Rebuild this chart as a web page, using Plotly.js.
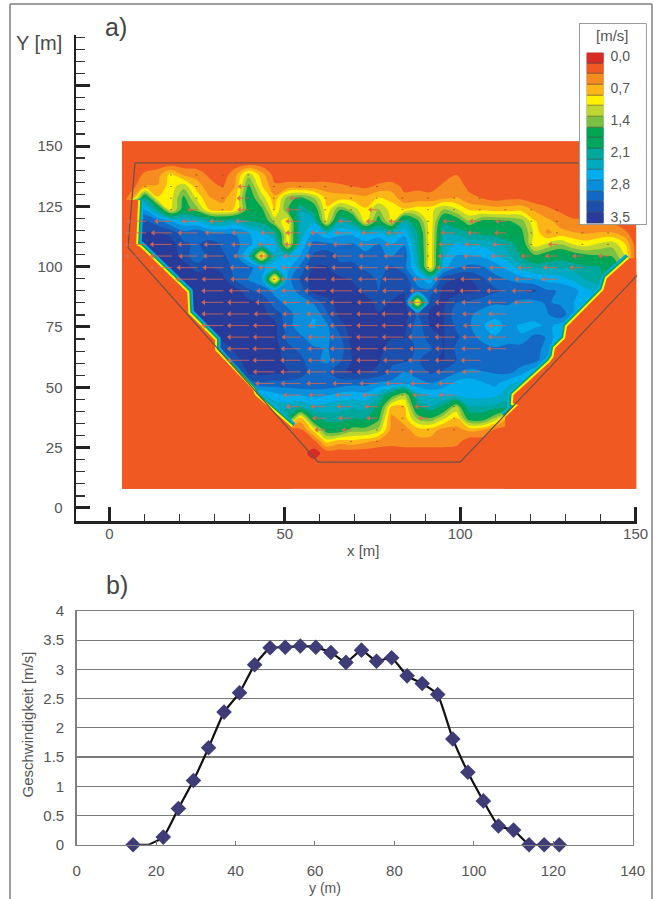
<!DOCTYPE html>
<html>
<head>
<meta charset="utf-8">
<script src="https://cdn.plot.ly/plotly-3.0.1.min.js"></script>
<style>html,body{margin:0;padding:0;background:#fff}</style>
</head>
<body>
<div id="chart" style="width:654px;height:899px"></div>
<script>
// ---------- panel a) velocity field: values ----------
const gridX = [6.4,10.1,13.8,17.5,21.2,24.9,28.6,32.3,36,39.7,43.4,47.1,50.8,54.5,58.2,61.9,65.6,69.3,73,76.7,80.4,84.1,87.8,91.5,95.2,98.9,102.6,106.3,110,113.7,117.4,121.1,124.8,128.5,132.2,135.9,139.6,143.3,147];
const gridY = [142.8,138,133.2,128.4,123.6,118.8,114,109.2,104.4,99.6,94.8,90,85.2,80.4,75.6,70.8,66,61.2,56.4,51.6,46.8,42,37.2,32.4,27.6,22.8,18];
const speedRows = [
[.2,.2,.2,.2,.2,.2,.2,.2,.2,.2, .2,.2,.2,.2,.2,.2,.2,.2,.2,.2, .2,.2,.2,.2,.2,.2,.2,.2,.2,.2, .2,.2,.2,.2,.2,.2,.2,.2,.2],
[.2,.4,.5,.9,.55,.5,.3,.2,.55,1.2, .7,.25,.2,.2,.2,.2,.2,.2,.2,.2, .2,.2,.2,.2,.25,.35,.25,.2,.2,.2, .2,.2,.2,.2,.2,.2,.2,.2,.2],
[.25,.6,.6,.95,1.2,.7,.45,.35,.6,1.6, .85,.4,.45,.45,.45,.45,.4,.35,.3,.4, .45,.3,.3,.25,.4,.45,.3,.2,.2,.2, .2,.2,.2,.2,.2,.2,.2,.2,.2],
[.5,2.0,.85,.95,1.6,1.0,.6,.5,.8,1.8, 1.2,.65,1.4,1.6,1.3,.75,.7,.7,.65,.85, .75,.4,.45,.45,.55,.6,.4,.35,.25,.3, .3,.2,.2,.2,.2,.2,.2,.2,.2],
[2.6,2.7,2.0,.95,1.7,1.4,.8,.7,.85,1.7, 1.6,.8,1.5,2.2,1.8,.85,1.5,1.2,.85,1.3, .95,.85,.95,.95,1.3,1.1,.8,.75,.7,.7, .75,.55,.4,.3,.2,.2,.2,.2,.2],
[3.1,3.2,3.0,2.7,2.5,2.45,2.2,2.1,2.3,2.0, 1.9,1.2,.9,2.3,2.4,.9,2.2,2.0,.9,1.7, 1.0,2.2,1.6,.85,1.9,1.75,1.3,1.6,1.6,1.55, 1.4,.85,.65,.5,.4,.4,.35,.3,.2],
[3.3,3.4,3.4,3.3,3.0,3.1,2.9,2.9,2.9,2.7, 2.45,2.1,.9,2.3,2.7,2.4,2.6,2.6,2.4,2.5, 2.3,2.6,2.0,.85,2.2,2.15,2.0,1.9,1.85,1.7, 1.6,1.0,.55,.65,.6,.55,.6,.6,.4],
[3.4,3.5,3.5,3.5,3.2,3.1,3.3,3.1,3.0,2.75, 2.5,2.6,.9,2.5,3.0,3.0,2.9,2.95,2.8,2.95, 2.7,2.9,2.1,.85,2.3,2.5,2.4,2.4,2.3,2.1, 1.85,.9,1.1,1.3,1.05,.95,1.1,1.2,.85],
[3.4,3.4,3.5,3.5,3.3,2.95,3.25,3.2,3.0,2.4, .6,2.4,2.5,2.7,3.2,3.3,3.1,3.1,3.0,2.95, 2.9,3.1,2.2,.85,2.4,2.7,2.7,2.65,2.5,2.3, 1.95,1.6,1.75,1.85,1.75,1.6,1.55,1.5,1.05],
[3.4,3.4,3.5,3.5,3.5,3.3,3.4,3.3,3.05,3.0, 2.75,2.5,2.6,3.0,3.4,3.4,3.2,3.2,3.1,3.0, 3.2,3.0,2.4,.85,2.6,2.9,3.0,2.95,2.8,2.6, 2.35,2.2,2.2,2.2,2.15,2.05,2.0,1.9,1.2],
[3.3,3.3,3.3,3.3,3.5,3.5,3.5,3.45,3.1,2.9, 2.75,.6,2.8,3.2,3.5,3.5,3.45,3.35,3.3,3.1, 3.3,3.3,2.8,2.5,3.3,3.4,3.4,3.2,3.0,2.9, 2.8,2.7,2.6,2.55,2.4,2.2,2.0,1.9,1.2],
[3.3,3.3,3.3,3.3,3.5,3.5,3.5,3.5,3.5,3.2, 3.05,2.85,2.8,3.0,3.5,3.5,3.5,3.5,3.3,3.15, 3.3,3.35,3.0,3.0,3.45,3.5,3.45,3.35,3.2,3.1, 3.15,3.2,2.95,2.9,2.8,2.5,2.4,2.0,2.0],
[3.3,3.3,3.3,3.3,3.4,3.45,3.5,3.5,3.45,3.45, 3.4,3.0,2.85,2.8,2.95,3.3,3.5,3.5,3.5,3.3, 3.4,3.5,.6,3.3,3.45,3.15,3.1,3.0,2.95,2.95, 2.85,2.85,2.95,2.85,2.7,2.45,2.0,2.0,2.0],
[3.3,3.3,3.3,3.3,3.3,3.5,3.5,3.5,3.5,3.5, 3.45,3.3,3.0,2.8,2.7,3.1,3.45,3.5,3.5,3.4, 3.5,3.5,3.1,3.45,3.4,3.0,2.95,2.85,2.75,2.8, 2.9,2.85,2.9,3.1,2.7,2.4,2.0,2.0,2.0],
[3.3,3.3,3.3,3.3,3.3,3.3,3.5,3.5,3.5,3.5, 3.5,3.45,3.0,2.8,2.65,2.85,3.3,3.5,3.5,3.4, 3.4,3.45,3.0,3.4,3.4,3.1,2.95,2.7,2.6,2.75, 2.65,2.6,2.75,2.6,2.3,2.3,2.0,2.0,2.0],
[3.3,3.3,3.3,3.3,3.3,3.3,3.3,3.5,3.5,3.5, 3.5,3.45,3.1,2.95,2.8,2.85,3.1,3.5,3.5,3.45, 3.4,3.4,2.95,3.3,3.4,3.2,3.0,2.85,2.7,2.8, 2.7,3.0,2.9,2.4,2.3,2.3,2.0,2.0,2.0],
[3.3,3.3,3.3,3.3,3.3,3.3,3.3,3.2,3.45,3.5, 3.5,3.5,3.2,3.1,2.95,2.9,3.0,3.45,3.5,3.45, 3.3,3.3,3.1,3.1,3.4,3.1,3.0,3.0,2.95,3.0, 3.05,3.05,2.8,2.4,2.3,2.3,2.0,2.0,2.0],
[3.3,3.3,3.3,3.3,3.3,3.3,3.3,3.3,3.3,3.5, 3.5,3.5,3.3,3.2,3.0,2.85,3.1,3.4,3.5,3.4, 3.2,3.2,3.1,3.35,3.4,3.15,3.1,3.1,3.05,3.05, 3.05,3.0,2.75,2.3,2.3,2.3,2.0,2.0,2.0],
[3.3,3.3,3.3,3.3,3.3,3.3,3.3,3.3,2.9,3.45, 3.5,3.45,3.4,3.2,3.1,3.1,3.3,3.45,3.4,3.35, 3.1,2.9,3.0,3.2,3.1,2.95,2.85,2.9,2.95,3.0, 2.8,2.5,2.2,2.2,2.0,2.0,2.0,2.0,2.0],
[3.0,3.0,3.0,3.0,3.0,3.0,3.0,3.0,3.0,3.0, 3.1,3.05,3.05,3.1,3.1,3.1,3.05,3.0,3.0,2.85, 2.85,2.75,2.85,2.9,2.8,2.6,2.55,2.65,2.75,2.5, 2.35,2.2,2.0,2.0,2.0,2.0,2.0,2.0,2.0],
[2.5,2.5,2.5,2.5,2.5,2.5,2.5,2.5,2.5,2.5, 2.4,2.6,2.7,2.7,2.75,2.7,2.6,2.55,2.6,2.3, 1.7,1.2,2.3,2.5,2.5,2.5,2.55,2.55,2.5,2.3, 2.1,2.0,2.0,2.0,2.0,2.0,2.0,2.0,2.0],
[2.2,2.2,2.2,2.2,2.2,2.2,2.2,2.2,2.2,2.2, 2.2,2.3,2.3,2.2,2.4,2.35,2.3,2.25,2.3,1.9, .8,.8,1.9,2.2,1.9,1.25,2.2,2.2,2.15,2.0, 1.5,1.5,1.5,1.5,1.5,1.5,1.5,1.5,1.5],
[1.9,1.9,1.9,1.9,1.9,1.9,1.9,1.9,1.9,1.9, 1.9,1.9,1.9,.75,1.9,2.1,2.1,2.0,2.0,1.6, .5,.7,1.35,1.5,1.1,.8,1.7,1.75,1.25,.6, .3,.3,.3,.3,.3,.3,.3,.3,.3],
[.2,.2,.2,.2,.2,.2,.2,.2,.2,.2, .2,.2,.2,.3,.9,1.7,1.75,1.4,1.4,1.2, .5,.5,.7,.7,.5,.5,.65,.6,.3,.2, .2,.2,.2,.2,.2,.2,.2,.2,.2],
[.2,.2,.2,.2,.2,.2,.2,.2,.2,.2, .2,.2,.2,.2,.25,.9,.7,.75,.65,.5, .45,.5,.5,.5,.5,.45,.2,.2,.2,.2, .2,.2,.2,.2,.2,.2,.2,.2,.2],
[.2,.2,.2,.2,.2,.2,.2,.2,.2,.2, .2,.2,.2,.2,.03,.2,.2,.2,.2,.2, .2,.2,.2,.2,.2,.2,.2,.2,.2,.2, .2,.2,.2,.2,.2,.2,.2,.2,.2],
[.2,.2,.2,.2,.2,.2,.2,.2,.2,.2, .2,.2,.2,.2,.2,.2,.2,.2,.2,.2, .2,.2,.2,.2,.2,.2,.2,.2,.2,.2, .2,.2,.2,.2,.2,.2,.2,.2,.2]
];
const backgroundSpeed = 0.2;
const fieldLeft = 3.6, fieldRight = 150.2, fieldTop = 152, fieldBottom = 8;

// band colours of the legend, top to bottom
const legendLevels = [0,0.2333,0.4667,0.7,0.9333,1.1667,1.4,1.6333,1.8667,2.1,2.3333,2.5667,2.8,3.0333,3.2667,3.5];
const bandColors = ['#d92b26','#f05a22','#f68b1f','#fbb517','#fff200','#bed630','#7ac143','#00a651','#00a65d','#00a79d','#00aac0','#00aeef','#0a8fdc','#1268c4','#1b4fab','#273b9b'];
const legendTickVals = [0,0.7,1.4,2.1,2.8,3.5];
const legendTickText = ['0,0','0,7','1,4','2,1','2,8','3,5'];

// sharp banks of the flow field
const leftBankX = [8.2,7.6,8.7,22.2,22.5,30.1,30.1,41,41.5,52];
const leftBankY = [127.6,109,108.3,89.4,80.7,69.6,65.5,48.9,46.8,33.4];
const rightBankX = [148.2,141.8,140.8,130.4,129.9,127,126.6,125.6,115.2,115,116.5,112.8];
const rightBankY = [103.5,95.2,90.3,75.1,70.3,66.2,62.7,60.6,46.8,43.4,42.7,37.6];

// grey outline of the measuring area
const outlineX = [7.3,5.3,59.5,100,150.5,153,7.3];
const outlineY = [143,108,19,19,96.5,143,143];

// flow arrows
const arrowColumns = [10.5,17.8,25.1,32.5,39.8,47.1,54.5,61.8,69.1,76.5,83.8,91.1,98.5,105.8,113.1,120.5,127.8,135.1,142.4];
const arrowRows = [138,133.2,128.4,123.6,118.8,114,109.2,104.4,99.6,94.8,90,85.2,80.4,75.6,70.8,66,61.2,56.4,51.6,46.8,42,37.2,32.4,27.6];
const arrowFrom = [1,0,1,1,0,0,0,0,1,2,3,3,3,3,4,4,4,5,5,6,6,7,7,8];
const arrowTo   = [4,9,13,17,18,18,18,18,17,16,15,15,14,14,14,14,13,13,12,12,12,12,12,9];
const arrowScale = 1.6;

// ---------- panel b) speed profile ----------
const profileY = [14.2,18,21.8,25.6,29.4,33.2,37.1,41,44.8,48.7,52.5,56.3,60.2,64,67.8,71.7,75.5,79.3,83.2,87,90.9,94.7,98.5,102.4,106.2,110,113.9,117.7,121.5];
const profileV = [0,0,0.13,0.62,1.1,1.66,2.27,2.6,3.08,3.37,3.38,3.4,3.38,3.29,3.12,3.33,3.14,3.2,2.89,2.76,2.57,1.81,1.24,0.75,0.32,0.25,0,0,0];
const profileMarkerSize = [12,0,12,12,12,12,12,12,12,12,12,12,12,12,12,12,12,12,12,12,12,12,12,12,12,12,12,12,12];

// ---------- construction ----------
const W = 654, H = 899;
const px = v => v / W, py = v => 1 - v / H;
const FONT = '"Liberation Sans", Arial, sans-serif';
const INK = '#555555';

const gridXFull = [fieldLeft].concat(gridX, [fieldRight]);
const pad = r => [backgroundSpeed].concat(r, [backgroundSpeed]);
const yAsc = [fieldBottom].concat(gridY.slice().reverse(), [147.6, fieldTop]);
const zAsc = [];
zAsc.push(pad(speedRows[speedRows.length-1]));
speedRows.slice().reverse().forEach(r => zAsc.push(pad(r)));
zAsc.push(pad(speedRows[0])); zAsc.push(pad(speedRows[0]));

const scale = legendLevels.map((v,i) => [v/3.5, bandColors[i]]);

const traces = [];
traces.push({type:'contour', x:gridXFull, y:yAsc, z:zAsc, zmin:0, zmax:3.5, colorscale:scale, showscale:false,
  autocontour:false, contours:{start:0.11667,end:3.3834,size:0.23333,coloring:'fill',showlines:false}, line:{width:0}, hoverinfo:'skip'});

// bank rims, wide to narrow, then the bank fill on top
[[leftBankX,leftBankY],[rightBankX,rightBankY]].forEach(b => {
  [[11,'#00aeef'],[8,'#00a79d'],[6,'#00a651'],[4,'#fff200']].forEach(s => {
    traces.push({type:'scatter',mode:'lines',x:b[0],y:b[1],line:{color:s[1],width:s[0]},hoverinfo:'skip'});
  });
});
traces.push({type:'scatter',mode:'lines',fill:'toself',fillcolor:bandColors[1],line:{width:0},hoverinfo:'skip',
  x:leftBankX.concat([52,fieldLeft,fieldLeft]), y:leftBankY.concat([fieldBottom,fieldBottom,127.6])});
traces.push({type:'scatter',mode:'lines',fill:'toself',fillcolor:bandColors[1],line:{width:0},hoverinfo:'skip',
  x:rightBankX.concat([112.8,fieldRight,fieldRight]), y:rightBankY.concat([fieldBottom,fieldBottom,103.5])});

traces.push({type:'scatter',mode:'lines',x:outlineX,y:outlineY,line:{color:'#6b5148',width:1.2},cliponaxis:false,hoverinfo:'skip'});

// arrows: tail on a measuring point, head to the left, length by speed
const nearest = (arr,v) => { let b=0; arr.forEach((a,i)=>{ if(Math.abs(a-v)<Math.abs(arr[b]-v)) b=i; }); return b; };
const segX=[],segY=[],headX=[],headY=[],dotX=[],dotY=[];
arrowRows.forEach((y,ri) => {
  const row = speedRows[nearest(gridY,y)];
  for(let c=arrowFrom[ri]; c<=arrowTo[ri]; c++){
    const x = arrowColumns[c], v = row[nearest(gridX,x)];
    if(v < 1.3){ dotX.push(x-0.5,x,null); dotY.push(y,y,null); }
    else { const h = x - v*arrowScale; segX.push(x,h,null); segY.push(y,y,null); headX.push(h); headY.push(y); }
  }
});
traces.push({type:'scatter',mode:'lines',x:dotX,y:dotY,line:{color:'#7a4020',width:1},opacity:0.7,hoverinfo:'skip'});
traces.push({type:'scatter',mode:'lines',x:segX,y:segY,line:{color:'#d9674f',width:1.1},opacity:0.75,hoverinfo:'skip'});
traces.push({type:'scatter',mode:'markers',x:headX,y:headY,marker:{symbol:'triangle-left',size:5,color:'#df6a50'},opacity:0.85,hoverinfo:'skip'});

// panel b
traces.push({type:'scatter',mode:'lines',xaxis:'x2',yaxis:'y2',x:profileY,y:profileV,line:{color:'#111111',width:2.2,shape:'spline',smoothing:0.4},cliponaxis:false,hoverinfo:'skip'});
traces.push({type:'scatter',mode:'markers',xaxis:'x2',yaxis:'y2',x:profileY,y:profileV,marker:{symbol:'diamond',size:profileMarkerSize,color:'#3f3d78',line:{width:0},opacity:1},cliponaxis:false,hoverinfo:'skip'});

// legend
traces.push({type:'heatmap',xaxis:'x3',yaxis:'y3',x:[7.7,24.3],y:legendLevels,z:legendLevels.map(v=>[v]),zmin:0,zmax:3.5,colorscale:scale,showscale:false,ygap:0.6,hoverinfo:'skip'});
traces.push({type:'scatter',mode:'text',xaxis:'x3',yaxis:'y3',x:legendTickVals.map(()=>31.5),y:legendTickVals,text:legendTickText,textposition:'middle right',textfont:{family:FONT,size:14,color:INK},hoverinfo:'skip'});

const axisMain = {showgrid:false,zeroline:false,showline:true,linecolor:'#222222',linewidth:2.5,ticks:'inside',ticklen:14,tickwidth:3,tickcolor:'#222222',
  tickfont:{family:FONT,size:15,color:INK},tickmode:'array'};

const layout = {
  width:W,height:H,margin:{l:0,r:0,t:0,b:0},paper_bgcolor:'#ffffff',plot_bgcolor:'#ffffff',showlegend:false,hovermode:false,
  font:{family:FONT,color:INK},
  xaxis:Object.assign({},axisMain,{domain:[px(76),px(637)],range:[-9.52,150.4],tickvals:[0,50,100,150],ticktext:['0','50','100','150'],
    anchor:'y',ticklabelstandoff:-3,minor:{dtick:10,tick0:0,ticks:'inside',ticklen:7,tickwidth:1,tickcolor:'#333333'}}),
  yaxis:Object.assign({},axisMain,{domain:[py(521),py(35)],range:[-5.4,196],tickvals:[0,25,50,75,100,125,150,175],ticktext:['0','25','50','75','100','125','150',''],
    anchor:'x',ticklabelstandoff:8,minor:{dtick:5,tick0:0,ticks:'inside',ticklen:9,tickwidth:1.2,tickcolor:'#333333'}}),
  xaxis2:{domain:[px(76.7),px(632.7)],range:[0,140],anchor:'y2',dtick:20,tick0:0,showgrid:false,zeroline:false,showline:true,mirror:true,linecolor:'#808080',linewidth:1.5,
    ticks:'inside',ticklen:4,tickwidth:1,tickcolor:'#777777',tickfont:{family:FONT,size:15,color:INK},ticklabelstandoff:12},
  yaxis2:{domain:[py(844.7),py(611)],range:[0,4],anchor:'x2',dtick:0.5,tick0:0,showgrid:true,gridcolor:'#7a7a7a',gridwidth:1.2,zeroline:false,showline:true,mirror:true,linecolor:'#808080',linewidth:1.5,
    ticks:'',tickfont:{family:FONT,size:15,color:INK},ticklabelstandoff:8,tickformat:'.1~f'},
  xaxis3:{domain:[px(579),px(646.7)],range:[0,67.7],anchor:'y3',visible:false,fixedrange:true},
  yaxis3:{domain:[py(225),py(23.3)],range:[3.653,-0.759],anchor:'x3',visible:false,fixedrange:true},
  shapes:[
    {type:'rect',xref:'x3',yref:'y3',layer:'below',x0:0,x1:67.7,y0:-0.759,y1:3.653,fillcolor:'#ffffff',line:{color:'#7a7a7a',width:1.5}},
    {type:'rect',xref:'x3',yref:'y3',layer:'below',x0:7.7,x1:24.3,y0:-0.1167,y1:3.6167,fillcolor:'#4a4a4a',line:{width:0}},
    {type:'line',xref:'paper',yref:'paper',layer:'above',x0:px(10),x1:px(10),y0:0,y1:py(4),line:{color:'#7f7f7f',width:1.5}},
    {type:'line',xref:'paper',yref:'paper',layer:'above',x0:px(10),x1:px(652),y0:py(4),y1:py(4),line:{color:'#7f7f7f',width:1.5}},
    {type:'line',xref:'paper',yref:'paper',layer:'above',x0:px(652),x1:px(652),y0:0,y1:py(4),line:{color:'#7f7f7f',width:1.5}}
  ],
  annotations:[
    {text:'a)',x:px(116),y:py(27),font:{size:25,color:'#444444'}},
    {text:'b)',x:px(117.5),y:py(585),font:{size:25,color:'#444444'}},
    {text:'Y [m]',x:px(39),y:py(43),font:{size:20,color:'#4a4a4a'}},
    {text:'x [m]',x:px(363),y:py(550),font:{size:15,color:INK}},
    {text:'y (m)',x:px(325),y:py(888),font:{size:14,color:INK}},
    {text:'Geschwindigkeit [m/s]',x:px(26.5),y:py(725),textangle:-90,font:{size:15,color:INK}},
    {text:'[m/s]',x:px(612.7),y:py(35),font:{size:15,color:INK}}
  ].map(a => Object.assign({xref:'paper',yref:'paper',showarrow:false,xanchor:'center',yanchor:'middle'},a))
};
Plotly.newPlot('chart',traces,layout,{displayModeBar:false,staticPlot:true});
</script>
</body>
</html>
